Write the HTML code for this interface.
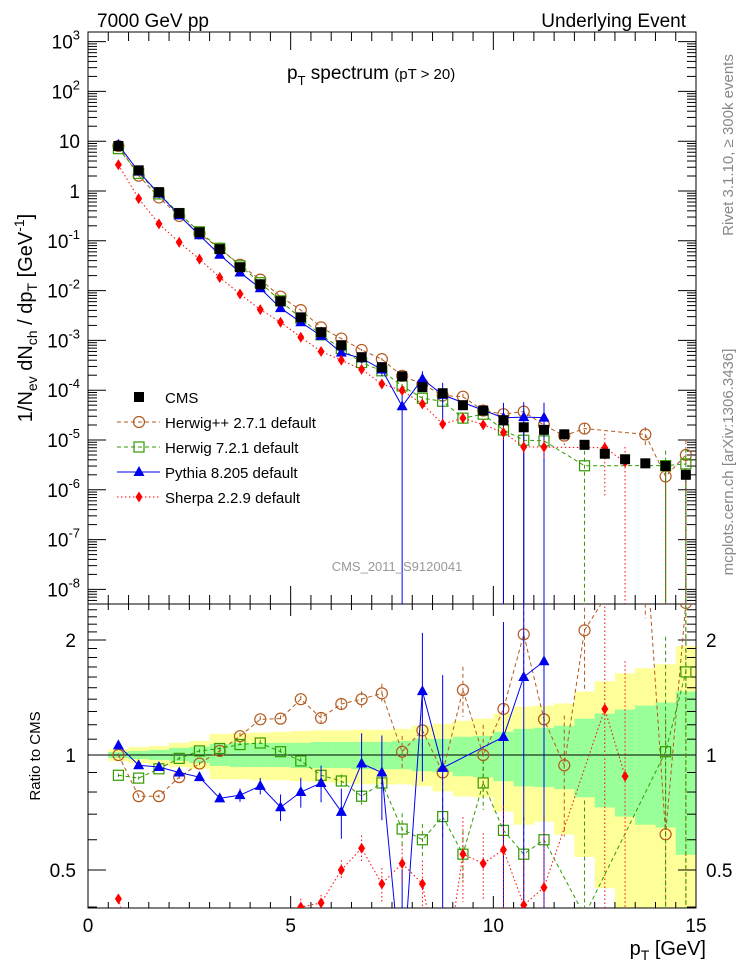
<!DOCTYPE html>
<html><head><meta charset="utf-8"><style>
html,body{margin:0;padding:0;background:#fff;width:746px;height:972px;overflow:hidden;}
svg{display:block;font-family:"Liberation Sans",Arial,sans-serif;}
</style></head><body>
<svg id="chart" width="746" height="972" viewBox="0 0 746 972" xmlns="http://www.w3.org/2000/svg">
<defs>
<clipPath id="clipMain"><rect x="88" y="32" width="608" height="572"/></clipPath>
<clipPath id="clipRatio"><rect x="88" y="604" width="608" height="304"/></clipPath>
</defs>
<g id="bandLayer" clip-path="url(#clipRatio)"></g>
<g id="axesLayer"></g>
<g id="mainLayer" clip-path="url(#clipMain)"></g>
<g id="ratioLayer" clip-path="url(#clipRatio)"></g>
<g id="textLayer">
<text x="97" y="27" font-size="19">7000 GeV pp</text>
<text x="686" y="27" font-size="19" text-anchor="end">Underlying Event</text>
<text x="287" y="79" font-size="19">p<tspan font-size="13" dy="6">T</tspan><tspan dy="-6"> spectrum </tspan><tspan font-size="15">(pT &gt; 20)</tspan></text>
<text x="397" y="571" font-size="13" fill="#999" text-anchor="middle">CMS_2011_S9120041</text>
<text transform="translate(32,318) rotate(-90)" font-size="20" text-anchor="middle">1/N<tspan font-size="14" dy="5">ev</tspan><tspan dy="-5"> dN</tspan><tspan font-size="14" dy="5">ch</tspan><tspan dy="-5"> / dp</tspan><tspan font-size="14" dy="5">T</tspan><tspan dy="-5"> [GeV</tspan><tspan font-size="14" dy="-8">-1</tspan><tspan dy="8">]</tspan></text>
<text transform="translate(40,756) rotate(-90)" font-size="15" text-anchor="middle">Ratio to CMS</text>
<text x="706" y="955" font-size="20" text-anchor="end">p<tspan font-size="14" dy="5">T</tspan><tspan dy="-5"> [GeV]</tspan></text>
<text transform="translate(733,145) rotate(-90)" font-size="15" fill="#888" text-anchor="middle">Rivet 3.1.10, ≥ 300k events</text>
<text transform="translate(733,462) rotate(-90)" font-size="15" fill="#888" text-anchor="middle">mcplots.cern.ch [arXiv:1306.3436]</text>
</g>
<g id="legend"></g>
</svg>
<script>
const xCenters=[0.75,1.25,1.75,2.25,2.75,3.25,3.75,4.25,4.75,5.25,5.75,6.25,6.75,7.25,7.75,8.25,8.75,9.25,9.75,10.25,10.75,11.25,11.75,12.25,12.75,13.25,13.75,14.25,14.75];
const cmsValues=[8,2.6,0.95,0.36,0.148,0.068,0.0295,0.0134,0.0061,0.0029,0.00146,0.0008,0.00046,0.00029,0.00019,0.000115,0.000087,0.00005,0.000039,0.000025,0.000018,0.000016,0.000013,0.000008,0.0000053,0.0000041,0.0000034,0.000003,0.000002];
const cmsToZero=[0,0,0,0,0,0,0,0,0,0,0,0,0,0,0,0,0,0,0,1,1,0,0,0,0,0,0,1,1];
const yellowHi=[1.037,1.05,1.056,1.076,1.089,1.136,1.14,1.145,1.15,1.155,1.16,1.16,1.164,1.164,1.171,1.193,1.207,1.229,1.245,1.283,1.339,1.347,1.364,1.466,1.559,1.636,1.687,1.728,1.928];
const yellowLo=[0.964,0.952,0.941,0.929,0.918,0.864,0.864,0.859,0.859,0.854,0.849,0.844,0.838,0.838,0.838,0.828,0.803,0.779,0.775,0.711,0.657,0.669,0.619,0.541,0.448,0.3,0.3,0.3,0.3];
const greenHi=[1.018,1.025,1.031,1.044,1.05,1.069,1.076,1.076,1.076,1.076,1.082,1.082,1.082,1.082,1.089,1.102,1.102,1.116,1.122,1.15,1.171,1.178,1.193,1.245,1.283,1.315,1.347,1.372,1.466];
const greenLo=[0.982,0.976,0.97,0.964,0.952,0.936,0.93,0.93,0.93,0.924,0.924,0.924,0.918,0.918,0.918,0.907,0.902,0.88,0.875,0.854,0.828,0.824,0.814,0.775,0.729,0.69,0.657,0.646,0.548];
const herwigPPRatio=[1.0,0.78,0.78,0.875,0.95,1.025,1.12,1.24,1.245,1.40,1.25,1.36,1.40,1.45,1.02,1.16,0.90,1.48,1.0,1.32,2.07,1.24,0.94,2.12,null,null,3.8,0.62,2.5];
const herwigPPErr=[0.01,0.01,0.01,0.01,0.01,0.01,0.02,0.02,0.02,0.02,0.03,0.03,0.05,0.06,0.1,0.1,0.12,0.15,0.2,0.2,0.2,0.25,0.35,0.3,null,null,0.4,1,1];
const herwig7Ratio=[0.885,0.87,0.92,0.98,1.025,1.04,1.065,1.075,1.02,0.965,0.885,0.855,0.78,0.845,0.64,0.60,0.69,0.55,0.845,0.635,0.55,0.60,null,0.38,null,null,null,1.02,1.65];
const herwig7Err=[0.01,0.01,0.01,0.01,0.01,0.01,0.02,0.02,0.02,0.02,0.03,0.04,0.05,0.06,0.1,0.1,0.12,0.15,0.15,0.2,0.25,0.3,null,1,null,null,null,1,1];
const pythiaRatio=[1.06,0.94,0.93,0.90,0.875,0.77,0.785,0.83,0.73,0.80,0.845,0.71,0.95,0.90,0.25,1.47,0.925,null,null,1.115,1.60,1.76,null,null,null,null,null,null,null];
const pythiaErr=[0.01,0.01,0.01,0.02,0.02,0.02,0.04,0.05,0.08,0.09,0.11,0.15,0.2,0.25,1,0.42,0.75,null,null,1,1,1,null,null,null,null,null,null,null];
const sherpaRatio=[0.42,0.27,0.23,0.26,0.29,0.27,0.29,0.31,0.38,0.40,0.41,0.50,0.57,0.46,0.52,0.46,0.24,0.55,0.52,0.565,0.405,0.45,null,null,1.32,0.88,null,null,null];
const sherpaErr=[0.01,0.01,0.01,0.01,0.02,0.02,0.02,0.03,0.04,0.05,0.05,0.06,0.08,0.1,0.12,0.15,0.2,0.25,0.2,0.3,0.35,0.4,null,null,0.9,1,null,null,null];
const yTickExps=[3,2,1,0,-1,-2,-3,-4,-5,-6,-7,-8];
const xTickLabels=[0,5,10,15];
const ratioTickLabels=[2,1,0.5];

const NS="http://www.w3.org/2000/svg";
const X0=88,X1=696,MT=32,MB=604,RB=908;
function xs(v){return X0+(v/15)*(X1-X0);}
function ym(v){return 191-49.8*Math.log10(v);}
function yr(r){return 755-115*Math.log2(r);}
function el(tag,attrs,parent){const e=document.createElementNS(NS,tag);for(const k in attrs)e.setAttribute(k,attrs[k]);parent.appendChild(e);return e;}
const axes=document.getElementById('axesLayer');
const band=document.getElementById('bandLayer');
const main=document.getElementById('mainLayer');
const ratio=document.getElementById('ratioLayer');
const legend=document.getElementById('legend');

xCenters.forEach((x,i)=>{
  const a=xs(x-0.25),w=xs(x+0.25)-a;
  const y1=el('rect',{x:a,y:yr(yellowHi[i]),width:w+0.5,height:yr(yellowLo[i])-yr(yellowHi[i]),fill:'#ffff99'},band);
  
  
  const g1=el('rect',{x:a,y:yr(greenHi[i]),width:w+0.5,height:yr(greenLo[i])-yr(greenHi[i]),fill:'#99ff99'},band);
  
  
});
const ref=el('line',{x1:X0,x2:X1,y1:yr(1),y2:yr(1),stroke:'#000','stroke-width':1},axes);



[[MT,MB],[MB,RB]].forEach(([t,b],k)=>{
  const f=el('rect',{x:X0,y:t,width:X1-X0,height:b-t,fill:'none',stroke:'#000','stroke-width':1},axes);
  
  
  for(let v=0;v<=15.001;v+=0.5){
    const major=Math.abs(v%5)<0.01;const len=major?(k?12:18):(k?6:9);
    const x=xs(v);
    el('line',{x1:x,x2:x,y1:b,y2:b-len,stroke:'#000'},axes);
    el('line',{x1:x,x2:x,y1:t,y2:t+len,stroke:'#000'},axes);
  }
});
for(let e=-9;e<=3;e++){
  for(let m=1;m<10;m++){
    const v=m*Math.pow(10,e);const y=ym(v);
    if(y<MT||y>MB)continue;
    const len=m===1?18:9;
    el('line',{x1:X0,x2:X0+len,y1:y,y2:y,stroke:'#000'},axes);
    el('line',{x1:X1,x2:X1-len,y1:y,y2:y,stroke:'#000'},axes);
  }
}
yTickExps.forEach(e=>{
  const t=el('text',{x:80,y:ym(Math.pow(10,e))+7,'font-size':19,'text-anchor':'end'},axes);
  
  
  if(e===1)t.textContent='10';else if(e===0)t.textContent='1';
  else{t.textContent='10';const s=el('tspan',{'font-size':13,dy:-9},t);s.textContent=String(e);}
});
for(let r=0.4;r<=2.5;r+=0.1){
  const y=yr(r);if(y<MB||y>RB)continue;
  const major=[0.5,1,2].some(q=>Math.abs(q-r)<0.01);const len=major?18:9;
  el('line',{x1:X0,x2:X0+len,y1:y,y2:y,stroke:'#000'},axes);
  el('line',{x1:X1,x2:X1-len,y1:y,y2:y,stroke:'#000'},axes);
}
ratioTickLabels.forEach(r=>{
  const a=el('text',{x:76,y:yr(r)+7,'font-size':19,'text-anchor':'end'},axes);a.textContent=String(r);
  
  
  const b=el('text',{x:706,y:yr(r)+7,'font-size':19},axes);b.textContent=String(r);
  
  
});
xTickLabels.forEach(v=>{
  const t=el('text',{x:xs(v),y:932,'font-size':19,'text-anchor':'middle'},axes);t.textContent=String(v);
  
  
});

function marker(kind,color,x,y,parent){
  let m;
  if(kind==='square')m=el('rect',{x:x-5,y:y-5,width:10,height:10,fill:'#000'},parent);
  else if(kind==='osquare')m=el('rect',{x:x-5,y:y-5,width:10,height:10,fill:'none',stroke:color,'stroke-width':1.2},parent);
  else if(kind==='circle')m=el('circle',{cx:x,cy:y,r:5.5,fill:'none',stroke:color,'stroke-width':1.2},parent);
  else if(kind==='tri')m=el('polygon',{points:`${x},${y-6} ${x-5.5},${y+4} ${x+5.5},${y+4}`,fill:color},parent);
  else m=el('polygon',{points:`${x},${y-5.5} ${x-3.5},${y} ${x},${y+5.5} ${x+3.5},${y}`,fill:color},parent);
  return m;
}
const series=[
 {name:'herwigpp',ratio:herwigPPRatio,err:herwigPPErr,color:'#b35a1f',dash:'4,3',kind:'circle',label:'Herwig++ 2.7.1 default'},
 {name:'herwig7',ratio:herwig7Ratio,err:herwig7Err,color:'#339900',dash:'4,3',kind:'osquare',label:'Herwig 7.2.1 default'},
 {name:'pythia',ratio:pythiaRatio,err:pythiaErr,color:'#0000ee',dash:'',kind:'tri',label:'Pythia 8.205 default'},
 {name:'sherpa',ratio:sherpaRatio,err:sherpaErr,color:'#ff0000',dash:'1.5,2.5',kind:'diamond',label:'Sherpa 2.2.9 default'}
];
xCenters.forEach((x,i)=>{
  if(cmsToZero[i])el('line',{x1:xs(x),x2:xs(x),y1:ym(cmsValues[i]),y2:MB,stroke:'#000'},main);
});
series.forEach(s=>{
  ['main','ratio'].forEach(panel=>{
    const layer=panel==='main'?main:ratio;
    const g=el('g',{},layer);
    
    
    const pts=[];
    xCenters.forEach((x,i)=>{
      const r=s.ratio[i];if(r==null)return;
      const px=xs(x);
      const py=panel==='main'?ym(cmsValues[i]*r):yr(r);
      pts.push([px,py]);
      const e=s.err[i];
      if(e){
        const lo=e>=1?(panel==='main'?MB:RB):(panel==='main'?ym(cmsValues[i]*r*(1-e)):yr(r*(1-e)));
        const hi=panel==='main'?ym(cmsValues[i]*r*(1+e)):yr(r*(1+e));
        el('line',{x1:px,x2:px,y1:hi,y2:lo,stroke:s.color,'stroke-dasharray':s.dash},g);
      }
    });
    el('polyline',{points:pts.map(p=>p.join(',')).join(' '),fill:'none',stroke:s.color,'stroke-width':1,'stroke-dasharray':s.dash},g);
    pts.forEach(p=>{const m=marker(s.kind,s.color,p[0],p[1],g);
      
      });
  });
});
xCenters.forEach((x,i)=>{
  const m=marker('square','#000',xs(x),ym(cmsValues[i]),main);
  
  
});
const legY=[397,422,447,472,497];
const entries=[{kind:'square',color:'#000',dash:null,label:'CMS'}].concat(series);
entries.forEach((s,k)=>{
  const y=legY[k];
  const g=el('g',{},legend);
  
  
  if(s.dash!==null&&s.dash!==undefined) el('line',{x1:117,x2:160,y1:y,y2:y,stroke:s.color,'stroke-dasharray':s.dash},g);
  marker(s.kind,s.color,139,y,g);
  const t=el('text',{x:165,y:y+6,'font-size':15},g);t.textContent=s.label;
});
</script>
</body></html>
